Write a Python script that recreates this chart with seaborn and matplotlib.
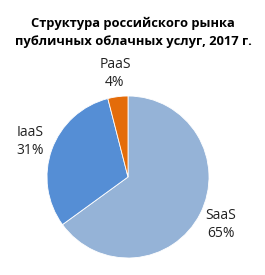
import matplotlib
matplotlib.use("Agg")
import matplotlib.pyplot as plt
import seaborn as sns

categories = ["SaaS", "IaaS", "PaaS"]
shares = [65, 31, 4]
colors = ["#95B3D7", "#558ED5", "#E46C0A"]
title = "Структура российского рынка\nпубличных облачных услуг, 2017 г."

sns.set_theme(style="white")
plt.rcParams["font.family"] = ["Open Sans", "DejaVu Sans"]

fig = plt.figure(figsize=(2.65, 2.75), dpi=100)
fig.patch.set_facecolor("white")
W, H = 265, 275
cx, cy, r = 128, 275 - 177, 81
ax = fig.add_axes([(cx - r) / W, (cy - r) / H, 2 * r / W, 2 * r / H])

labels = [f"{c}\n{v}%" for c, v in zip(categories, shares)]
wedges, texts = ax.pie(shares, colors=colors, startangle=90, counterclock=False,
                       labels=labels, labeldistance=1.29,
                       wedgeprops=dict(linewidth=0.6, edgecolor="white"),
                       textprops=dict(fontsize=10, color="#222222"))
for t in texts:
    t.set_ha("center")
    t.set_va("center")
    t.set_multialignment("center")
    t.set_linespacing(1.25)
ax.set_xlim(-1, 1)
ax.set_ylim(-1, 1)
ax.set_aspect("auto")

fig.text(133 / W, 1 - 32.5 / H, title, ha="center", va="center", fontsize=9.3,
         fontweight="bold", color="black", linespacing=1.45)

fig.savefig("out.png", dpi=100, facecolor="white")
